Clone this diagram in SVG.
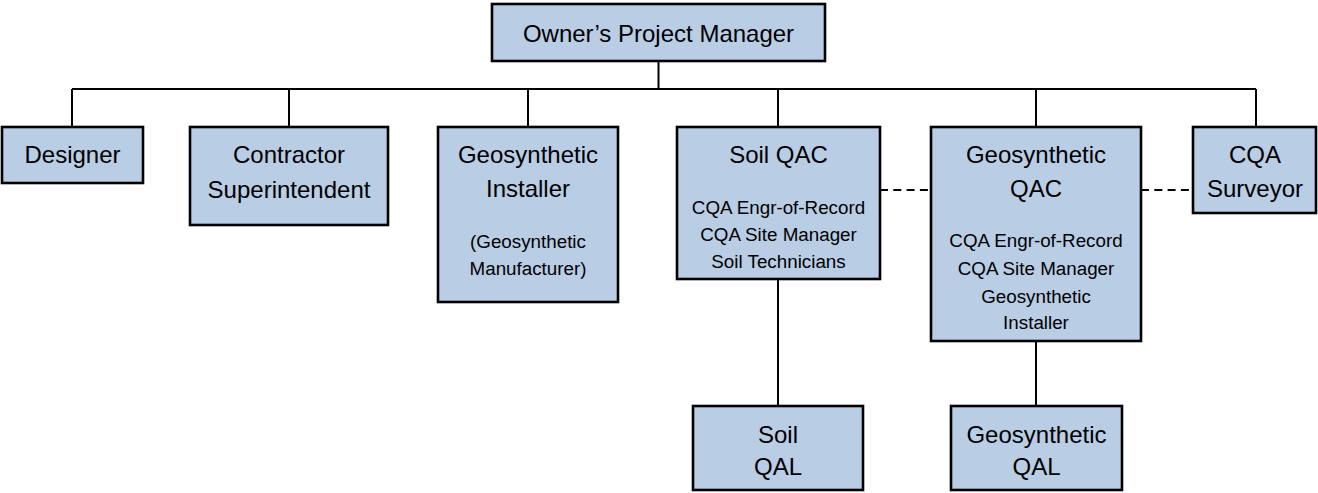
<svg xmlns="http://www.w3.org/2000/svg" width="1318" height="493" viewBox="0 0 1318 493">
<style>
  .box { fill: #B9CDE5; stroke: #000; stroke-width: 2.6; }
  .lbl { font-family: "Liberation Sans", Arial, sans-serif; font-size: 24px; fill: #000; text-anchor: middle; }
  .sm { font-family: "Liberation Sans", Arial, sans-serif; font-size: 18.8px; fill: #000; text-anchor: middle; }
  .conn { stroke: #000; stroke-width: 2; fill: none; }
  .dash { stroke: #000; stroke-width: 2; fill: none; stroke-dasharray: 8 5.3; }
</style>
<rect width="1318" height="493" fill="#fff"/>
<g id="connectors">
  <line class="conn" x1="658.5" y1="61" x2="658.5" y2="89"/>
  <line class="conn" x1="72" y1="89" x2="1256" y2="89"/>
  <line class="conn" x1="72" y1="89" x2="72" y2="127"/>
  <line class="conn" x1="289" y1="89" x2="289" y2="127"/>
  <line class="conn" x1="528" y1="89" x2="528" y2="127"/>
  <line class="conn" x1="778" y1="89" x2="778" y2="127"/>
  <line class="conn" x1="1036" y1="89" x2="1036" y2="127"/>
  <line class="conn" x1="1256" y1="89" x2="1256" y2="127"/>
  <line class="conn" x1="778" y1="279" x2="778" y2="406"/>
  <line class="conn" x1="1036" y1="341" x2="1036" y2="406"/>
  <line class="dash" x1="880" y1="190" x2="931" y2="190"/>
  <line class="dash" x1="1141" y1="190" x2="1193" y2="190"/>
</g>
<g id="owner">
  <rect class="box" x="492" y="4" width="333" height="57"/>
  <text class="lbl" x="658.5" y="42">Owner’s Project Manager</text>
</g>
<g id="designer">
  <rect class="box" x="2" y="127" width="141" height="56"/>
  <text class="lbl" x="72.5" y="163">Designer</text>
</g>
<g id="contractor">
  <rect class="box" x="190" y="127" width="198" height="98"/>
  <text class="lbl" x="289" y="163">Contractor</text>
  <text class="lbl" x="289" y="198">Superintendent</text>
</g>
<g id="geo-installer">
  <rect class="box" x="438" y="127" width="180" height="175"/>
  <text class="lbl" x="528" y="163">Geosynthetic</text>
  <text class="lbl" x="528" y="197">Installer</text>
  <text class="sm" x="528" y="248">(Geosynthetic</text>
  <text class="sm" x="528" y="275">Manufacturer)</text>
</g>
<g id="soil-qac">
  <rect class="box" x="677" y="127" width="203" height="152"/>
  <text class="lbl" x="778.5" y="163">Soil QAC</text>
  <text class="sm" x="778.5" y="214">CQA Engr-of-Record</text>
  <text class="sm" x="778.5" y="241">CQA Site Manager</text>
  <text class="sm" x="778.5" y="268">Soil Technicians</text>
</g>
<g id="geo-qac">
  <rect class="box" x="931" y="127" width="210" height="214"/>
  <text class="lbl" x="1036" y="163">Geosynthetic</text>
  <text class="lbl" x="1036" y="197">QAC</text>
  <text class="sm" x="1036" y="247">CQA Engr-of-Record</text>
  <text class="sm" x="1036" y="275">CQA Site Manager</text>
  <text class="sm" x="1036" y="303">Geosynthetic</text>
  <text class="sm" x="1036" y="329">Installer</text>
</g>
<g id="cqa-surveyor">
  <rect class="box" x="1193" y="127" width="123" height="86"/>
  <text class="lbl" x="1255" y="163">CQA</text>
  <text class="lbl" x="1255" y="197">Surveyor</text>
</g>
<g id="soil-qal">
  <rect class="box" x="693" y="406" width="170" height="84"/>
  <text class="lbl" x="778" y="443">Soil</text>
  <text class="lbl" x="778" y="475">QAL</text>
</g>
<g id="geo-qal">
  <rect class="box" x="951" y="406" width="171" height="84"/>
  <text class="lbl" x="1036.5" y="443">Geosynthetic</text>
  <text class="lbl" x="1036.5" y="475">QAL</text>
</g>
</svg>
